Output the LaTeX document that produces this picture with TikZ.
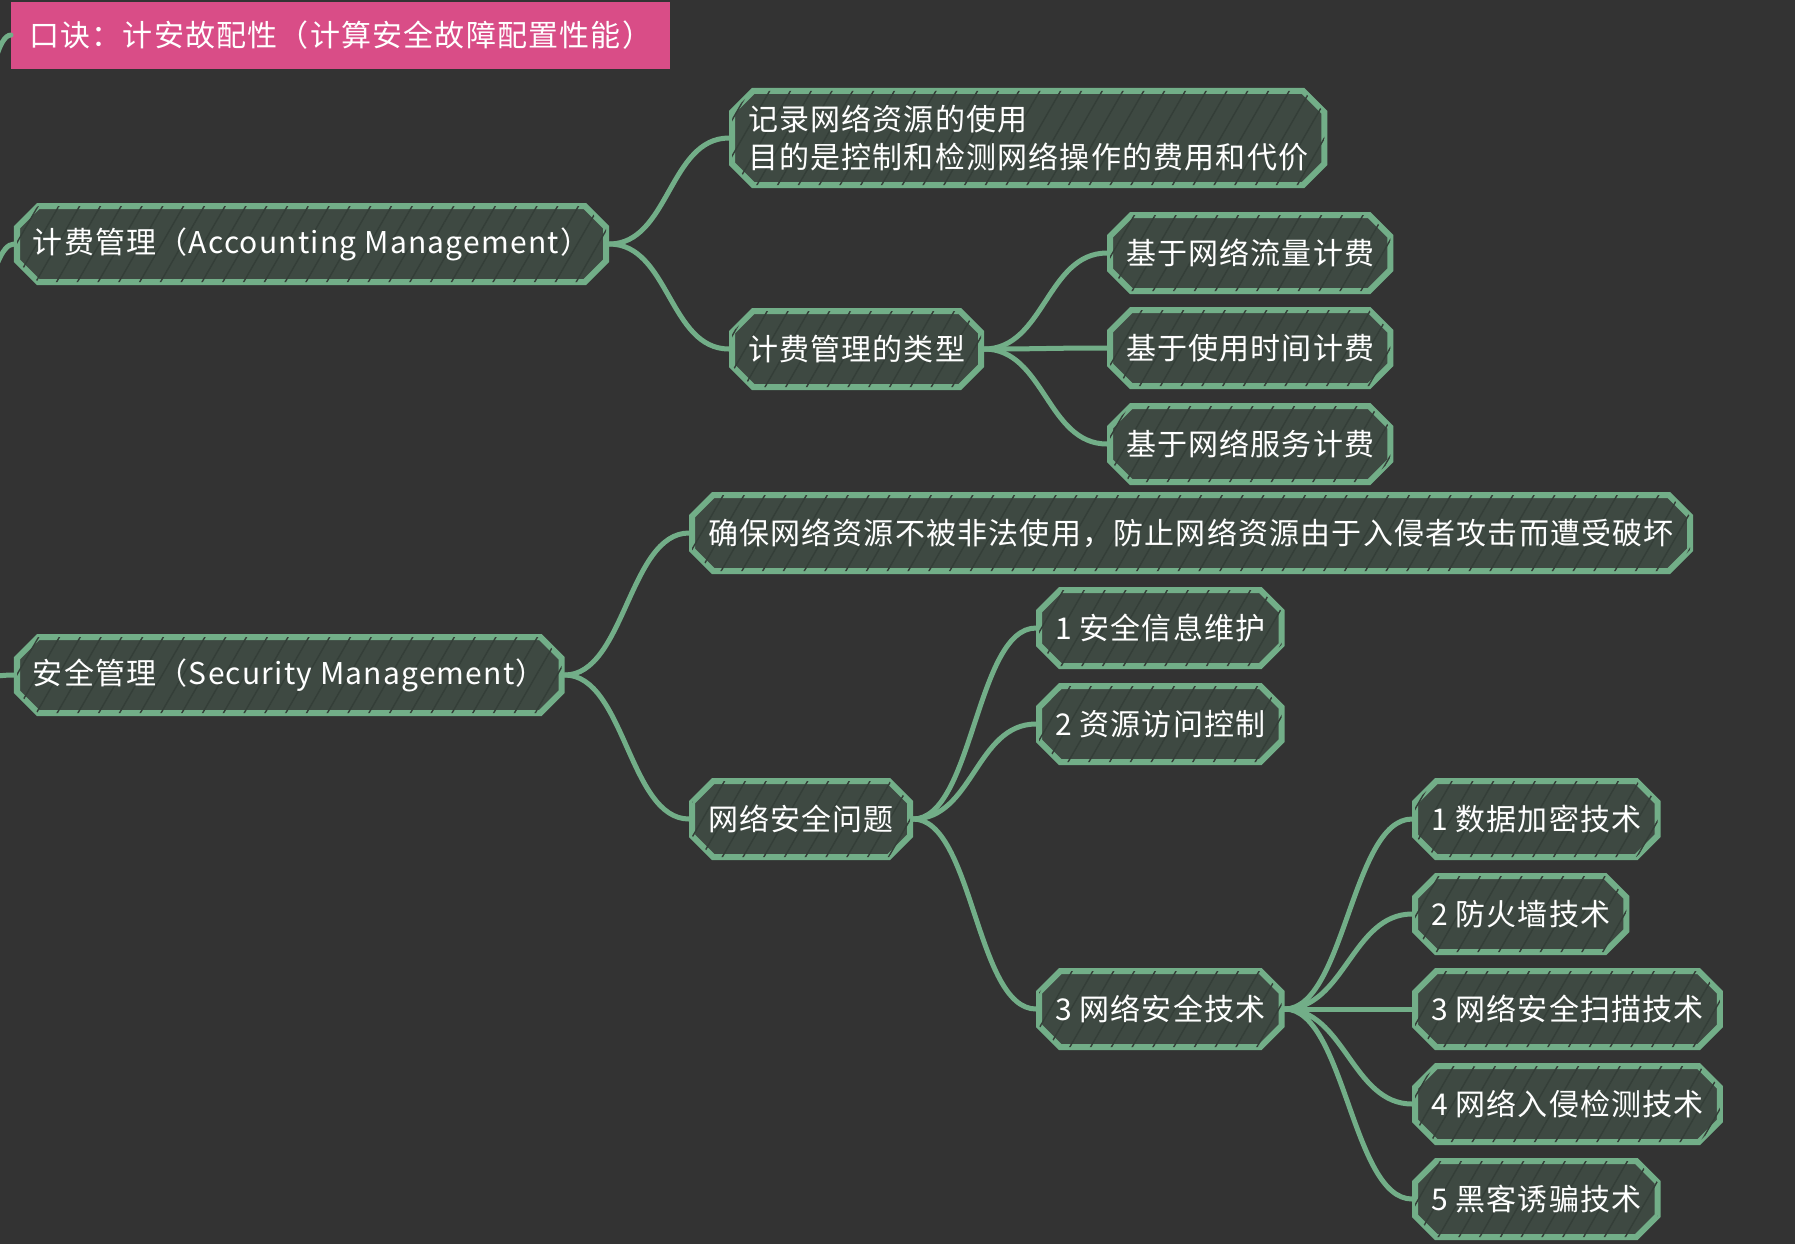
\documentclass[tikz,border=0pt]{standalone}
\usepackage{fontspec}
\setmainfont{Noto Sans CJK SC}[LetterSpace=4]
\usetikzlibrary{shapes.misc,patterns.meta}

\definecolor{bgcol}{HTML}{333333}
\definecolor{boxfill}{HTML}{3E4942}
\definecolor{boxline}{HTML}{72AE88}
\definecolor{hatchcol}{HTML}{343E38}
\definecolor{titlepink}{HTML}{D94D87}

\tikzset{
  topic/.style={chamfered rectangle, chamfered rectangle xsep=7pt,
    draw=boxline, line width=3pt, fill=boxfill,
    postaction={pattern={Lines[angle=60,distance=9pt,line width=0.7pt]}, pattern color=hatchcol},
    text=white, font=\fontsize{15pt}{19pt}\selectfont,
    inner xsep=1pt, minimum height=38pt, anchor=west, align=left},
  motto/.style={fill=titlepink, text=white, font=\fontsize{15pt}{19pt}\selectfont,
    inner xsep=9pt, minimum height=33.5pt, anchor=west},
  branch/.style={draw=boxline, line width=2.5pt, line cap=round},
}

\begin{document}
\begin{tikzpicture}[x=0.5pt,y=-0.5pt]
  % canvas is 1795 x 1244 (pixel units)
  \fill[bgcol] (0,0) rectangle (1795,1244);
  \useasboundingbox (0,0) rectangle (1795,1244);
  \clip (0,0) rectangle (1795,1244);

  % the root sits off the page, to the left
  \coordinate (root) at (-90,700);

  \node[motto] (title) at (11,35) {口诀：计安故配性（计算安全故障配置性能）};

  % accounting branch
  \node[topic] (acc) at (14,244) {计费管理（Accounting Management）};
  \node[topic] (rec) at (729,138) {记录网络资源的使用\\目的是控制和检测网络操作的费用和代价};
  \node[topic] (type) at (729,349) {计费管理的类型};
  \node[topic] (fee1) at (1107,253) {基于网络流量计费};
  \node[topic] (fee2) at (1107,348) {基于使用时间计费};
  \node[topic] (fee3) at (1107,444) {基于网络服务计费};

  % security branch
  \node[topic] (sec) at (14,675) {安全管理（Security Management）};
  \node[topic] (ens) at (689,533) {确保网络资源不被非法使用，防止网络资源由于入侵者攻击而遭受破坏};
  \node[topic] (issue) at (689,819) {网络安全问题};
  \node[topic] (iss1) at (1036,628) {1 安全信息维护};
  \node[topic] (iss2) at (1036,724) {2 资源访问控制};
  \node[topic] (iss3) at (1036,1009) {3 网络安全技术};
  \node[topic] (tech1) at (1412,819) {1 数据加密技术};
  \node[topic] (tech2) at (1412,914) {2 防火墙技术};
  \node[topic] (tech3) at (1412,1009) {3 网络安全扫描技术};
  \node[topic] (tech4) at (1412,1104) {4 网络入侵检测技术};
  \node[topic] (tech5) at (1412,1199) {5 黑客诱骗技术};

  % connectors
  \foreach \from/\to in {root/title, root/acc, root/sec}
    \draw[branch] (\from) .. controls +(50,0) and +(-50,0) .. (\to.west);
  \foreach \from/\to in {acc/rec, acc/type, type/fee1, type/fee2, type/fee3,
      sec/ens, sec/issue, issue/iss1, issue/iss2, issue/iss3,
      iss3/tech1, iss3/tech2, iss3/tech3, iss3/tech4, iss3/tech5}
    \draw[branch] (\from.east) .. controls +(60,0) and +(-60,0) .. (\to.west);
\end{tikzpicture}
\end{document}
